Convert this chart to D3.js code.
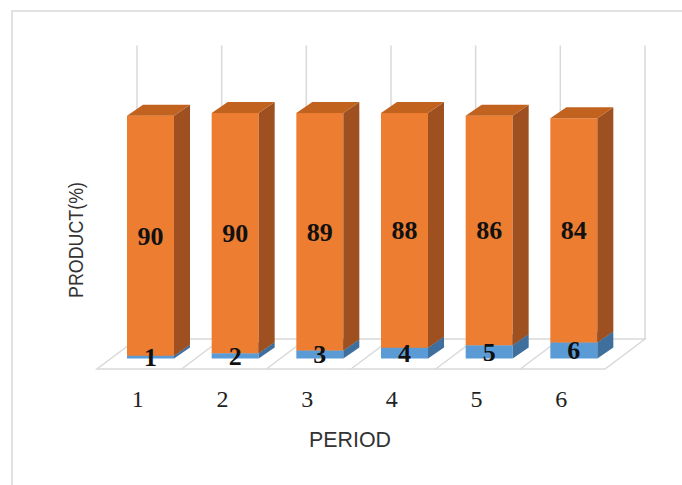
<!DOCTYPE html>
<html>
<head>
<meta charset="utf-8">
<script src="https://cdn.jsdelivr.net/npm/d3@7"></script>
<style>
  html, body { margin: 0; padding: 0; background: #fff; }
  svg { display: block; }
</style>
</head>
<body>
<svg id="chart" width="682" height="485"></svg>
<script>
// Periods and the two stacked series (percent of product)
const periods = ["1", "2", "3", "4", "5", "6"];
const lowerSeries = [1, 2, 3, 4, 5, 6];
const upperSeries = [90, 90, 89, 88, 86, 84];
const yAxisMax = 110;

const W = 682, H = 485;
const svg = d3.select("#chart");

// Floor geometry of the 3-D plot (oblique projection)
const floorFrontY = 369;
const floorDepthX = 40, floorDepthY = -30;   // back edge offset
const barDepthX = 16, barDepthY = -11;       // bar depth offset
const barFrontX = 14, barFrontY = -10.5;     // bar front face set back from floor front
const barInset = 16, barWidth = 47;

const x = d3.scaleBand().domain(periods).range([97, 605]).padding(0);
const wallHeight = 293.5;
const h = d3.scaleLinear().domain([0, yAxisMax]).range([0, wallHeight]);

const grid = "#d9d9d9";

// Outer chart border
svg.append("rect")
  .attr("x", 12).attr("y", 11)
  .attr("width", W + 10).attr("height", H + 10)
  .attr("fill", "none").attr("stroke", grid).attr("stroke-width", 1.5);

// Back wall vertical gridlines at category boundaries
const boundaries = periods.map(p => x(p)).concat([x.range()[1]]);
svg.append("g").selectAll("line").data(boundaries).join("line")
  .attr("x1", d => d + floorDepthX).attr("x2", d => d + floorDepthX)
  .attr("y1", floorFrontY + floorDepthY - wallHeight)
  .attr("y2", floorFrontY + floorDepthY)
  .attr("stroke", grid).attr("stroke-width", 1.5);

// Floor outline and category dividers
const floor = svg.append("g").attr("fill", "none").attr("stroke", grid).attr("stroke-width", 1.5);
const x0 = x.range()[0], x1 = x.range()[1];
floor.append("path").attr("d",
  `M${x0},${floorFrontY}L${x1},${floorFrontY}L${x1 + floorDepthX},${floorFrontY + floorDepthY}L${x0 + floorDepthX},${floorFrontY + floorDepthY}Z`);
floor.selectAll("line").data(boundaries.slice(1, -1)).join("line")
  .attr("x1", d => d).attr("y1", floorFrontY)
  .attr("x2", d => d + floorDepthX).attr("y2", floorFrontY + floorDepthY);

// Stack the series
const rows = periods.map((p, i) => ({ period: p, lower: lowerSeries[i], upper: upperSeries[i] }));
const stacked = d3.stack().keys(["lower", "upper"])(rows);
const palette = {
  lower: { front: "#5b9bd5", side: "#3f6f9c", top: "#4a83b8" },
  upper: { front: "#ed7d31", side: "#9e5020", top: "#c2621f" }
};

const baseY = floorFrontY + barFrontY;
function face(pts) { return "M" + pts.map(p => p.join(",")).join("L") + "Z"; }

const bars = svg.append("g");
periods.forEach((p, i) => {
  const left = x(p) + barInset + barFrontX;
  const right = left + barWidth;
  const g = bars.append("g");
  stacked.forEach(layer => {
    const seg = layer[i];
    const yb = baseY - h(seg[0]);
    const yt = baseY - h(seg[1]);
    const c = palette[layer.key];
    g.append("path").attr("fill", c.front)
      .attr("d", face([[left, yt], [right, yt], [right, yb], [left, yb]]));
    g.append("path").attr("fill", c.side)
      .attr("d", face([[right, yt], [right + barDepthX, yt + barDepthY], [right + barDepthX, yb + barDepthY], [right, yb]]));
    g.append("path").attr("fill", c.top)
      .attr("d", face([[left, yt], [left + barDepthX, yt + barDepthY], [right + barDepthX, yt + barDepthY], [right, yt]]));
  });
});

// Value labels centred on each segment's front face
const labels = svg.append("g")
  .attr("font-family", "'Liberation Serif', 'Times New Roman', serif")
  .attr("font-weight", "bold").attr("font-size", 26)
  .attr("fill", "#111").attr("text-anchor", "middle");
stacked.forEach(layer => {
  layer.forEach((seg, i) => {
    const cx = x(periods[i]) + barInset + barFrontX + barWidth / 2;
    const cy = baseY - h((seg[0] + seg[1]) / 2);
    labels.append("text")
      .attr("x", cx).attr("y", cy).attr("dy", "0.34em")
      .text(seg.data[layer.key]);
  });
});

// Category axis
const axis = svg.append("g")
  .attr("transform", `translate(-1.5, 407)`)
  .call(d3.axisBottom(x).tickSize(0).tickPadding(0));
axis.select(".domain").remove();
axis.selectAll("text")
  .attr("font-family", "'Liberation Serif', 'Times New Roman', serif")
  .attr("font-size", 24).attr("fill", "#222").attr("dy", "0");

// Axis titles
svg.append("text")
  .attr("x", 350).attr("y", 447)
  .attr("text-anchor", "middle")
  .attr("font-family", "'Liberation Sans', Arial, sans-serif")
  .attr("font-size", 22).attr("fill", "#333")
  .attr("textLength", 82).attr("lengthAdjust", "spacingAndGlyphs")
  .text("PERIOD");

svg.append("text")
  .attr("transform", "translate(83, 240) rotate(-90)")
  .attr("text-anchor", "middle")
  .attr("font-family", "'Liberation Sans', Arial, sans-serif")
  .attr("font-size", 21).attr("fill", "#333")
  .attr("textLength", 116).attr("lengthAdjust", "spacingAndGlyphs")
  .text("PRODUCT(%)");
</script>
</body>
</html>
